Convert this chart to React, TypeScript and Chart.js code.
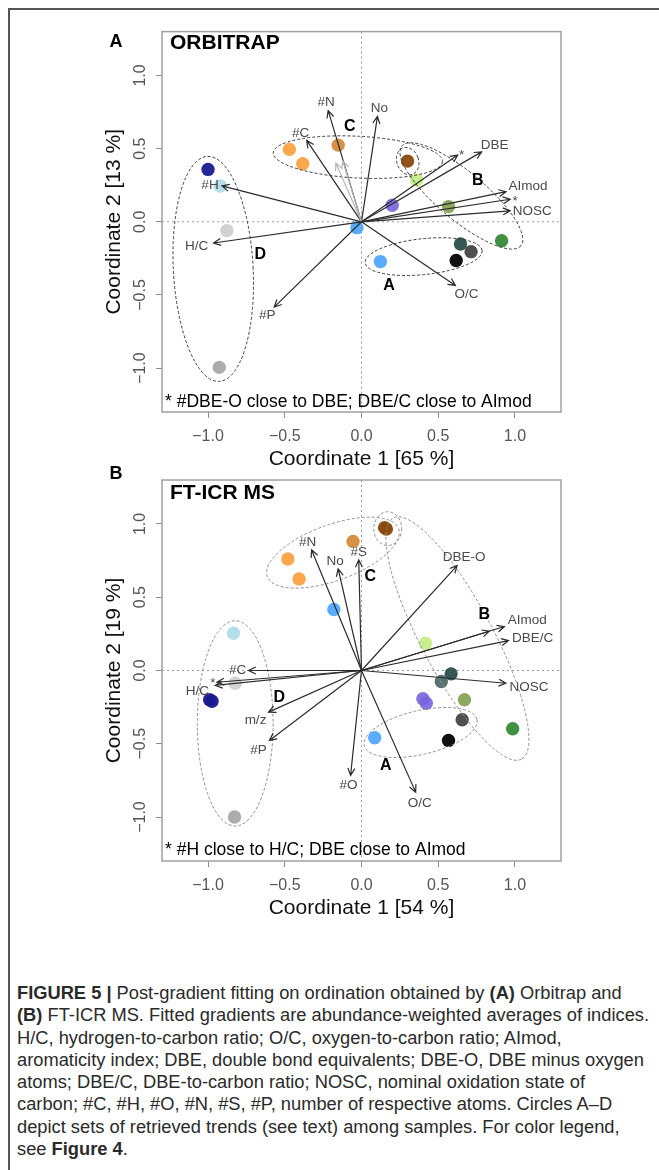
import React, { useEffect, useRef } from 'react';
import { Chart, registerables } from 'chart.js';

Chart.register(...registerables);

const FONT = '"Liberation Sans", Arial, Helvetica, sans-serif';

// ---------- shared axis ----------
const axisTicks = [-1, -0.5, 0, 0.5, 1];
const axisMin = -1.3;
const axisMax = 1.3;

// ---------- colours ----------
const NAVY = 'rgba(27,27,142,0.95)';
const LIGHTBLUE = 'rgba(176,220,233,0.95)';
const LIGHTGRAY = 'rgba(208,208,208,0.95)';
const GRAY = 'rgba(168,168,168,0.95)';
const ORANGE = 'rgba(252,160,60,0.92)';
const PERU = 'rgba(210,136,56,0.92)';
const BROWN = 'rgba(138,74,14,0.95)';
const LIGHTGREEN = 'rgba(196,238,138,0.95)';
const PURPLE = 'rgba(118,100,222,0.9)';
const BLUE = 'rgba(80,168,255,0.95)';
const OLIVE = 'rgba(134,164,90,0.95)';
const DARKGREEN = 'rgba(56,138,56,0.95)';
const SLATE = 'rgba(44,78,76,0.95)';
const SLATE2 = 'rgba(80,108,106,0.95)';
const DARKGRAY = 'rgba(70,70,70,0.95)';
const BLACK = 'rgba(8,8,8,0.97)';

// ---------- Panel A: ORBITRAP ----------
const orbiSampleX = [-1.0, -0.92, -0.877, -0.927, -0.47, -0.383, -0.152, 0.30, 0.36, 0.2, -0.03, 0.567, 0.913, 0.645, 0.714, 0.617, 0.123];
const orbiSampleY = [0.358, 0.245, -0.06, -0.995, 0.495, 0.397, 0.524, 0.415, 0.286, 0.113, -0.04, 0.104, -0.13, -0.152, -0.204, -0.265, -0.272];
const orbiSampleColors = [NAVY, LIGHTBLUE, LIGHTGRAY, GRAY, ORANGE, ORANGE, PERU, BROWN, LIGHTGREEN, PURPLE, BLUE, OLIVE, DARKGREEN, SLATE, DARKGRAY, BLACK, BLUE];

const orbiVectorNames = ['#H', 'H/C', '#C', '#N', 'No', '', '', 'DBE', '*', 'AImod', '*', 'NOSC', 'O/C', '#P'];
const orbiVectorX = [-0.909, -0.964, -0.357, -0.217, 0.104, -0.167, -0.121, 0.783, 0.627, 0.942, 0.969, 0.969, 0.612, -0.569];
const orbiVectorY = [0.245, -0.145, 0.556, 0.760, 0.721, 0.401, 0.415, 0.478, 0.456, 0.206, 0.154, 0.075, -0.435, -0.583];
const orbiVectorFaint = [false, false, false, false, false, true, true, false, false, false, false, false, false, false];
const orbiLabelDX = [-12, -17, -6, -2, 2, 0, 0, 13, 4, 22, 5, 22, 11, -7];
const orbiLabelDY = [-1, 3, -7, -8, -8, 0, 0, -7, 0, -5, 2, 0, 9, 8];

const orbiGroupLetters = ['C', 'B', 'A', 'D'];
const orbiGroupLetterX = [-0.076, 0.757, 0.179, -0.66];
const orbiGroupLetterY = [0.653, 0.284, -0.435, -0.227];

const orbiEllipseCx = [-0.966, -0.024, 0.651, 0.301, 0.405];
const orbiEllipseCy = [-0.322, 0.442, 0.177, 0.415, -0.238];
const orbiEllipseA = [0.26, 0.552, 0.506, 0.071, 0.383];
const orbiEllipseB = [0.734, 0.136, 0.156, 0.091, 0.117];
const orbiEllipseAngle = [-3, 3, 40, -20, -6];

// ---------- Panel B: FT-ICR MS ----------
const ftSampleX = [-0.48, -0.407, -0.055, 0.162, 0.15, -0.18, -0.834, -0.823, -0.99, -0.974, 0.417, 0.584, 0.52, 0.40, 0.422, 0.671, 0.656, 0.985, 0.567, 0.086, -0.827];
const ftSampleY = [0.761, 0.625, 0.881, 0.966, 0.975, 0.416, 0.254, -0.087, -0.2, -0.21, 0.186, -0.023, -0.075, -0.193, -0.223, -0.2, -0.336, -0.398, -0.477, -0.459, -1.0];
const ftSampleColors = [ORANGE, ORANGE, PERU, BROWN, BROWN, BLUE, LIGHTBLUE, LIGHTGRAY, NAVY, NAVY, LIGHTGREEN, SLATE, SLATE2, PURPLE, PURPLE, OLIVE, DARKGRAY, DARKGREEN, BLACK, BLUE, GRAY];

const ftVectorNames = ['#N', 'No', '#S', '#C', 'H/C', '*', 'm/z', '#P', '#O', 'O/C', 'DBE-O', 'AImod', '', 'DBE/C', 'NOSC'];
const ftVectorX = [-0.325, -0.152, -0.018, -0.736, -0.953, -0.942, -0.606, -0.600, -0.071, 0.353, 0.623, 0.931, 0.833, 0.958, 0.941];
const ftVectorY = [0.823, 0.693, 0.755, 0.0, -0.102, -0.080, -0.284, -0.477, -0.716, -0.830, 0.716, 0.300, 0.268, 0.204, -0.087];
const ftVectorFaint = ftVectorNames.map(() => false);
const ftLabelDX = [-4, -3, 0, -11, -18, -4, -13, -11, -2, 4, 7, 23, 0, 24, 23];
const ftLabelDY = [-8, -8, -8, 0, 6, 1, 8, 10, 10, 11, -8, -6, 0, -2, 4];

const ftGroupLetters = ['C', 'B', 'A', 'D'];
const ftGroupLetterX = [0.058, 0.8, 0.158, -0.535];
const ftGroupLetterY = [0.64, 0.382, -0.648, -0.182];

const ftEllipseCx = [-0.186, 0.625, 0.171, 0.385, -0.823];
const ftEllipseCy = [0.804, 0.218, 0.968, -0.423, -0.361];
const ftEllipseA = [0.455, 0.89, 0.091, 0.377, 0.247];
const ftEllipseB = [0.182, 0.234, 0.11, 0.143, 0.669];
const ftEllipseAngle = [-20, 62, 0, -13, 0];

const fmtTick = (v: number) => (v < 0 ? '\u2212' : '') + Math.abs(v).toFixed(1);

type PanelCfg = {
  letter: string;
  letterY: number;
  title: string;
  titleDy: number;
  note: string;
  noteDy: number;
  xTitle: string;
  yTitle: string;
  sx: number[];
  sy: number[];
  colors: string[];
  vNames: string[];
  vX: number[];
  vY: number[];
  vFaint: boolean[];
  lDX: number[];
  lDY: number[];
  gL: string[];
  gX: number[];
  gY: number[];
  eCx: number[];
  eCy: number[];
  eA: number[];
  eB: number[];
  eAng: number[];
  ellipseColor: string;
  top: number;
  height: number;
  padTop: number;
};

const panelA: PanelCfg = {
  letter: 'A', letterY: 20, title: 'ORBITRAP', titleDy: 12,
  note: '* #DBE-O close to DBE; DBE/C close to AImod', noteDy: -10,
  xTitle: 'Coordinate 1 [65 %]', yTitle: 'Coordinate 2 [13 %]',
  sx: orbiSampleX, sy: orbiSampleY, colors: orbiSampleColors,
  vNames: orbiVectorNames, vX: orbiVectorX, vY: orbiVectorY, vFaint: orbiVectorFaint,
  lDX: orbiLabelDX, lDY: orbiLabelDY,
  gL: orbiGroupLetters, gX: orbiGroupLetterX, gY: orbiGroupLetterY,
  eCx: orbiEllipseCx, eCy: orbiEllipseCy, eA: orbiEllipseA, eB: orbiEllipseB, eAng: orbiEllipseAngle,
  ellipseColor: '#3c3c3c',
  top: 22, height: 450, padTop: 9,
};

const panelB: PanelCfg = {
  letter: 'B', letterY: 16, title: 'FT-ICR MS', titleDy: 13,
  note: '* #H close to H/C; DBE close to AImod', noteDy: -10.5,
  xTitle: 'Coordinate 1 [54 %]', yTitle: 'Coordinate 2 [19 %]',
  sx: ftSampleX, sy: ftSampleY, colors: ftSampleColors,
  vNames: ftVectorNames, vX: ftVectorX, vY: ftVectorY, vFaint: ftVectorFaint,
  lDX: ftLabelDX, lDY: ftLabelDY,
  gL: ftGroupLetters, gX: ftGroupLetterX, gY: ftGroupLetterY,
  eCx: ftEllipseCx, eCy: ftEllipseCy, eA: ftEllipseA, eB: ftEllipseB, eAng: ftEllipseAngle,
  ellipseColor: '#8e8e8e',
  top: 458, height: 463, padTop: 22,
};

function makeOverlay(cfg: PanelCfg) {
  return {
    id: 'biplotOverlay',
    beforeDatasetsDraw(chart: any) {
      const { ctx, chartArea: ca, scales } = chart;
      const xs = scales.x;
      const ys = scales.y;
      const x0 = xs.getPixelForValue(0);
      const y0 = ys.getPixelForValue(0);
      ctx.save();
      ctx.strokeStyle = '#9a9a9a';
      ctx.lineWidth = 1;
      ctx.setLineDash([2, 3]);
      ctx.beginPath();
      ctx.moveTo(x0, ca.top);
      ctx.lineTo(x0, ca.bottom);
      ctx.moveTo(ca.left, y0);
      ctx.lineTo(ca.right, y0);
      ctx.stroke();
      ctx.restore();
    },
    afterDatasetsDraw(chart: any) {
      const { ctx, chartArea: ca, scales } = chart;
      const xs = scales.x;
      const ys = scales.y;
      const unit = xs.getPixelForValue(1) - xs.getPixelForValue(0);
      const x0 = xs.getPixelForValue(0);
      const y0 = ys.getPixelForValue(0);
      ctx.save();

      // ellipses
      ctx.strokeStyle = cfg.ellipseColor;
      ctx.lineWidth = 1;
      ctx.setLineDash([3, 2]);
      cfg.eCx.forEach((cx, i) => {
        ctx.beginPath();
        ctx.ellipse(xs.getPixelForValue(cx), ys.getPixelForValue(cfg.eCy[i]), cfg.eA[i] * unit, cfg.eB[i] * unit, (cfg.eAng[i] * Math.PI) / 180, 0, Math.PI * 2);
        ctx.stroke();
      });
      ctx.setLineDash([]);

      // vectors
      cfg.vX.forEach((vx, i) => {
        const tx = xs.getPixelForValue(vx);
        const ty = ys.getPixelForValue(cfg.vY[i]);
        const col = cfg.vFaint[i] ? '#b5b5b5' : '#2b2b2b';
        ctx.strokeStyle = col;
        ctx.lineWidth = 1.2;
        ctx.beginPath();
        ctx.moveTo(x0, y0);
        ctx.lineTo(tx, ty);
        const ang = Math.atan2(ty - y0, tx - x0);
        const L = 8;
        ctx.moveTo(tx - L * Math.cos(ang - 0.45), ty - L * Math.sin(ang - 0.45));
        ctx.lineTo(tx, ty);
        ctx.lineTo(tx - L * Math.cos(ang + 0.45), ty - L * Math.sin(ang + 0.45));
        ctx.stroke();
        const name = cfg.vNames[i];
        if (name) {
          ctx.fillStyle = '#4a4a4a';
          ctx.font = `13.5px ${FONT}`;
          ctx.textAlign = 'center';
          ctx.textBaseline = 'middle';
          ctx.fillText(name, tx + cfg.lDX[i], ty + cfg.lDY[i]);
        }
      });

      // group letters
      ctx.fillStyle = '#000';
      ctx.font = `bold 16px ${FONT}`;
      ctx.textAlign = 'center';
      ctx.textBaseline = 'middle';
      cfg.gL.forEach((g, i) => {
        ctx.fillText(g, xs.getPixelForValue(cfg.gX[i]), ys.getPixelForValue(cfg.gY[i]));
      });

      // box
      ctx.strokeStyle = '#a0a0a0';
      ctx.lineWidth = 1.5;
      ctx.strokeRect(ca.left, ca.top, ca.right - ca.left, ca.bottom - ca.top);

      // title inside
      ctx.fillStyle = '#000';
      ctx.font = `bold 21px ${FONT}`;
      ctx.textAlign = 'left';
      ctx.fillText(cfg.title, ca.left + 8, ca.top + cfg.titleDy);

      // footnote
      ctx.font = `17.5px ${FONT}`;
      ctx.fillText(cfg.note, ca.left + 3, ca.bottom + cfg.noteDy);

      // panel letter
      ctx.font = `bold 18px ${FONT}`;
      ctx.textAlign = 'center';
      ctx.fillText(cfg.letter, ca.left - 46, cfg.letterY);
      ctx.restore();
    },
  };
}

function Biplot({ cfg }: { cfg: PanelCfg }) {
  const ref = useRef<HTMLCanvasElement | null>(null);
  useEffect(() => {
    if (!ref.current) return;
    const chart = new Chart(ref.current, {
      type: 'scatter',
      data: {
        datasets: [
          {
            data: cfg.sx.map((x, i) => ({ x, y: cfg.sy[i] })),
            backgroundColor: cfg.colors,
            borderWidth: 0,
            pointRadius: 6.7,
          },
        ],
      },
      options: {
        animation: false,
        responsive: false,
        devicePixelRatio: 1,
        events: [],
        layout: { padding: { left: 0, top: cfg.padTop, right: 29, bottom: 0 } },
        plugins: { legend: { display: false }, tooltip: { enabled: false } },
        scales: {
          x: {
            type: 'linear',
            min: axisMin,
            max: axisMax,
            afterBuildTicks: (s: any) => {
              s.ticks = axisTicks.map((v) => ({ value: v }));
            },
            afterFit: (s: any) => {
              s.height = 60;
            },
            grid: { display: true, drawOnChartArea: false, drawTicks: true, tickLength: 6, color: '#8c8c8c' },
            border: { display: false },
            ticks: {
              color: '#555',
              font: { size: 16, family: FONT },
              padding: 9,
              autoSkip: false,
              minRotation: 0,
              maxRotation: 0,
              callback: (v: any) => fmtTick(Number(v)),
            },
            title: { display: true, text: cfg.xTitle, color: '#111', font: { size: 21, family: FONT }, padding: { top: 0, bottom: 0 } },
          },
          y: {
            type: 'linear',
            min: axisMin,
            max: axisMax,
            afterBuildTicks: (s: any) => {
              s.ticks = axisTicks.map((v) => ({ value: v }));
            },
            afterFit: (s: any) => {
              s.width = 72;
            },
            grid: { display: true, drawOnChartArea: false, drawTicks: true, tickLength: 6, color: '#8c8c8c' },
            border: { display: false },
            ticks: {
              color: '#555',
              font: { size: 16, family: FONT },
              padding: 0,
              autoSkip: false,
              minRotation: 90,
              maxRotation: 90,
              crossAlign: 'center',
              callback: (v: any) => fmtTick(Number(v)),
            },
            title: { display: true, text: cfg.yTitle, color: '#111', font: { size: 21, family: FONT }, padding: { top: 12, bottom: 0 } },
          },
        },
      },
      plugins: [makeOverlay(cfg)],
    } as any);
    return () => chart.destroy();
  }, [cfg]);
  return (
    <canvas
      ref={ref}
      width={500}
      height={cfg.height}
      style={{ position: 'absolute', left: 90, top: cfg.top, width: 500, height: cfg.height }}
    />
  );
}

const captionLines: React.ReactNode[] = [
  <>
    <b>FIGURE 5 |</b> Post-gradient fitting on ordination obtained by <b>(A)</b> Orbitrap and
  </>,
  <>
    <b>(B)</b> FT-ICR MS. Fitted gradients are abundance-weighted averages of indices.
  </>,
  <>H/C, hydrogen-to-carbon ratio; O/C, oxygen-to-carbon ratio; AImod,</>,
  <>aromaticity index; DBE, double bond equivalents; DBE-O, DBE minus oxygen</>,
  <>atoms; DBE/C, DBE-to-carbon ratio; NOSC, nominal oxidation state of</>,
  <>carbon; #C, #H, #O, #N, #S, #P, number of respective atoms. Circles A–D</>,
  <>depict sets of retrieved trends (see text) among samples. For color legend,</>,
  <>
    see <b>Figure 4</b>.
  </>,
];

export default function App() {
  return (
    <div style={{ position: 'absolute', left: 0, top: 0, width: 659, height: 1170, overflow: 'hidden', background: '#fff' }}>
      <div
        style={{
          position: 'absolute',
          left: 8,
          top: 8,
          width: 700,
          height: 1200,
          borderTop: '2px solid #555',
          borderLeft: '2px solid #555',
        }}
      />
      <Biplot cfg={panelA} />
      <Biplot cfg={panelB} />
      <div
        style={{
          position: 'absolute',
          left: 17,
          top: 982,
          fontFamily: FONT,
          fontSize: 18.3,
          lineHeight: '22.3px',
          color: '#2a2a2a',
          whiteSpace: 'nowrap',
        }}
      >
        {captionLines.map((l, i) => (
          <div key={i}>{l}</div>
        ))}
      </div>
    </div>
  );
}
